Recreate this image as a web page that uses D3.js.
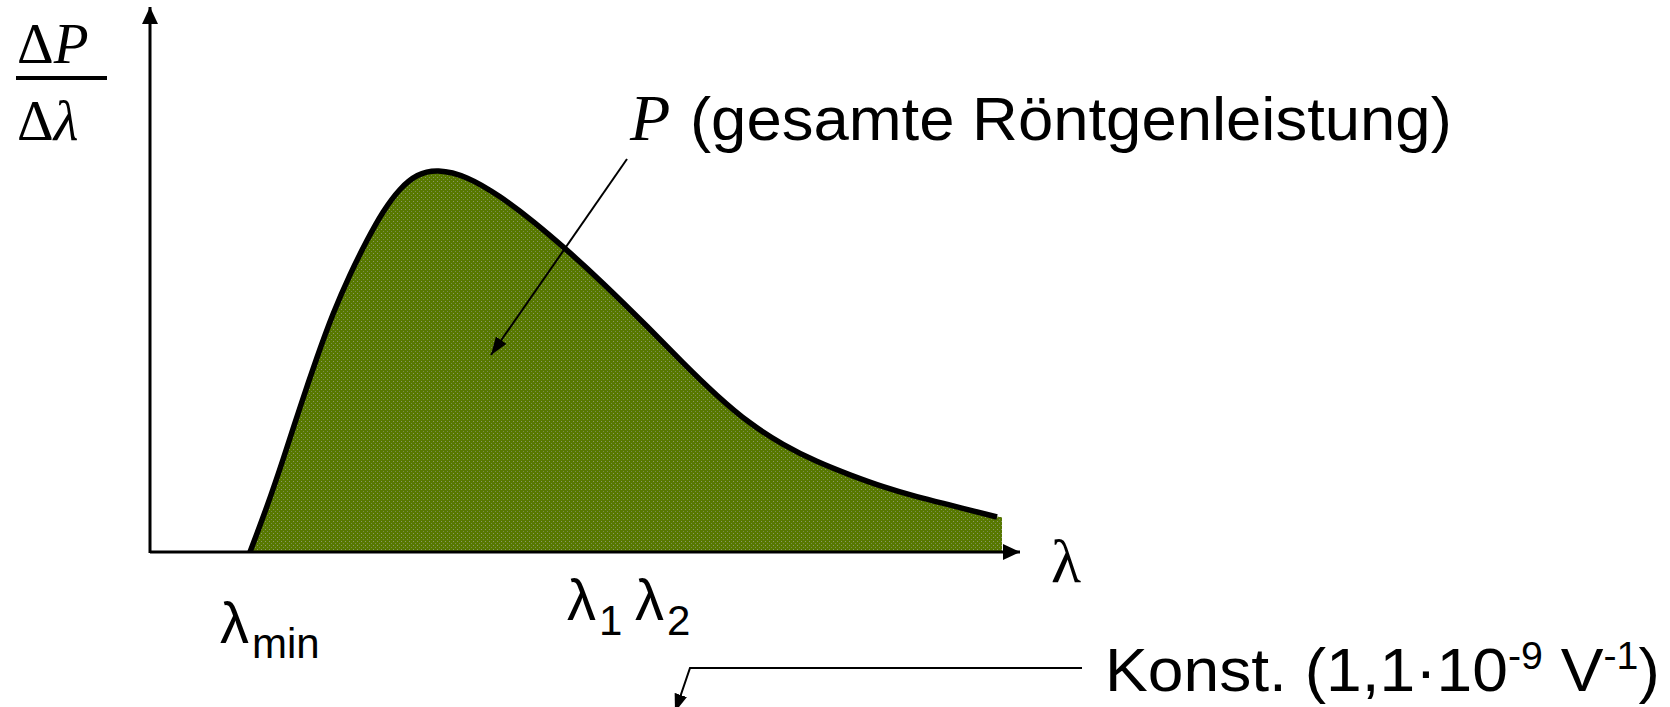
<!DOCTYPE html>
<html>
<head>
<meta charset="utf-8">
<script src="https://cdn.jsdelivr.net/npm/d3@7"></script>
<style>
  html, body { margin: 0; padding: 0; background: #ffffff; }
  svg { display: block; }
</style>
</head>
<body>
<svg id="chart" width="1670" height="707"></svg>
<script>
// Bremsstrahlung spectrum: wavelength (arbitrary units) vs. spectral power ΔP/Δλ
const lambdaValues = [10, 11.7, 13.3, 15, 16.7, 18.3, 20, 21.7, 23.3, 25, 26.7, 28.7,
  31.7, 35, 38.3, 41.7, 45, 50, 53.3, 56.7, 60, 63.3, 66.7, 70, 73.3, 76.7, 80, 84.7];
const powerValues = [0, 4.5, 9.2, 14.5, 19.5, 23.9, 27.8, 31.2, 34.1, 36.4, 37.8, 38.3,
  37.6, 35.6, 33.1, 30.2, 27.2, 22.3, 18.9, 15.6, 12.8, 10.7, 9.0, 7.7, 6.5, 5.5, 4.7, 3.5];
// right edge where the shaded region is cut off
const lambdaCut = 85.2;
// marked wavelengths on the axis
const markerNames = ["min", "1", "2"];
const markerLambdas = [7.0, 41.7, 48.5];

const xDomain = [0, 87];
const yDomain = [0, 54.5];

const svg = d3.select("#chart");
const x = d3.scaleLinear().domain(xDomain).range([150, 1020]);
const y = d3.scaleLinear().domain(yDomain).range([552, 7]);

const curve = lambdaValues.map((l, i) => ({ l, p: powerValues[i] }));
const areaData = curve.concat([{ l: lambdaCut, p: powerValues[powerValues.length - 1] }]);

// dotted olive fill
const defs = svg.append("defs");
const pat = defs.append("pattern")
  .attr("id", "olive-dots")
  .attr("patternUnits", "userSpaceOnUse")
  .attr("width", 4).attr("height", 4);
pat.append("rect").attr("width", 4).attr("height", 4).attr("fill", "#577800");
pat.append("rect").attr("x", 1).attr("y", 1).attr("width", 1).attr("height", 1)
  .attr("fill", "#8c9a6a");
pat.append("rect").attr("x", 3).attr("y", 3).attr("width", 1).attr("height", 1)
  .attr("fill", "#7a8c52");

const smooth = d3.curveBasis;

const area = d3.area()
  .x(d => x(d.l))
  .y0(y(0))
  .y1(d => y(d.p))
  .curve(smooth);

svg.append("path")
  .datum(areaData)
  .attr("d", area)
  .attr("fill", "url(#olive-dots)");

const line = d3.line()
  .x(d => x(d.l))
  .y(d => y(d.p))
  .curve(smooth);

svg.append("path")
  .datum(curve)
  .attr("d", line)
  .attr("fill", "none")
  .attr("stroke", "#000")
  .attr("stroke-width", 5.5)
  .attr("stroke-linejoin", "round");

// arrowhead markers
function addMarker(id, w, h) {
  defs.append("marker")
    .attr("id", id)
    .attr("viewBox", `0 0 ${w} ${h}`)
    .attr("refX", w).attr("refY", h / 2)
    .attr("markerWidth", w).attr("markerHeight", h)
    .attr("markerUnits", "userSpaceOnUse")
    .attr("orient", "auto")
    .append("path")
    .attr("d", `M0,0L${w},${h / 2}L0,${h}Z`)
    .attr("fill", "#000");
}
addMarker("axis-head", 17, 16);
addMarker("note-head", 18, 13);

// axes
svg.append("line")
  .attr("x1", x(0)).attr("y1", y(0))
  .attr("x2", x(xDomain[1])).attr("y2", y(0))
  .attr("stroke", "#000").attr("stroke-width", 3)
  .attr("marker-end", "url(#axis-head)");
svg.append("line")
  .attr("x1", x(0)).attr("y1", y(0) + 1)
  .attr("x2", x(0)).attr("y2", y(yDomain[1]))
  .attr("stroke", "#000").attr("stroke-width", 3)
  .attr("marker-end", "url(#axis-head)");

// y-axis label: ΔP / Δλ
const serif = "'Liberation Serif', 'Times New Roman', serif";
const sans = "'Liberation Sans', Arial, sans-serif";

const yl1 = svg.append("text").attr("x", 17).attr("y", 63)
  .attr("font-family", serif).attr("font-size", 57);
yl1.append("tspan").text("Δ");
yl1.append("tspan").attr("font-style", "italic").text("P");
svg.append("line").attr("x1", 16).attr("x2", 107).attr("y1", 78).attr("y2", 78)
  .attr("stroke", "#000").attr("stroke-width", 4);
const yl2 = svg.append("text").attr("x", 17).attr("y", 140)
  .attr("font-family", serif).attr("font-size", 57);
yl2.append("tspan").text("Δ");
yl2.append("tspan").attr("font-style", "italic").text("λ");

// x-axis label
svg.append("text").attr("x", 1051).attr("y", 582)
  .attr("font-family", serif).attr("font-size", 62).text("λ");

// wavelength markers below the axis
const markerBase = [643, 620, 620];
markerNames.forEach((name, i) => {
  const t = svg.append("text")
    .attr("x", x(markerLambdas[i]))
    .attr("y", markerBase[i])
    .attr("font-family", sans).attr("font-size", 58);
  t.append("tspan").text("λ");
  t.append("tspan").attr("font-size", 42).attr("dy", 15).attr("dx", 3).text(name);
});

// annotation: total power
const pAnn = svg.append("g");
pAnn.append("text").attr("x", 630).attr("y", 140)
  .attr("font-family", serif).attr("font-style", "italic").attr("font-size", 66).text("P");
const pText = pAnn.append("text").attr("x", 690).attr("y", 140)
  .attr("font-family", sans).attr("font-size", 62).text("(gesamte Röntgenleistung)");
fitWidth(pText, 690, 762);

svg.append("line")
  .attr("x1", 627).attr("y1", 159)
  .attr("x2", 491).attr("y2", 355)
  .attr("stroke", "#000").attr("stroke-width", 2)
  .attr("marker-end", "url(#note-head)");

// annotation: constant
const kText = svg.append("text").attr("x", 1105).attr("y", 691)
  .attr("font-family", sans).attr("font-size", 62);
kText.append("tspan").text("Konst. (1,1·10");
kText.append("tspan").attr("font-size", 38).attr("dy", -22).text("-9");
kText.append("tspan").attr("dy", 22).text(" V");
kText.append("tspan").attr("font-size", 38).attr("dy", -22).text("-1");
kText.append("tspan").attr("dy", 22).text(")");
fitWidth(kText, 1105, 555);

svg.append("path")
  .attr("d", "M1082,668L690,668L675,712")
  .attr("fill", "none")
  .attr("stroke", "#000").attr("stroke-width", 2)
  .attr("marker-end", "url(#note-head)");

function fitWidth(sel, x0, target) {
  const w = sel.node().getBBox().width;
  const s = target / w;
  sel.attr("transform", `translate(${x0},0) scale(${s},1) translate(${-x0},0)`);
}
</script>
</body>
</html>
